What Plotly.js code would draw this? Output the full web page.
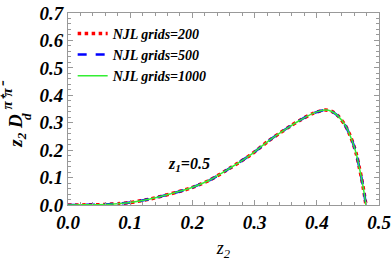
<!DOCTYPE html>
<html><head><meta charset="utf-8">
<script src="https://cdn.plot.ly/plotly-3.0.1.min.js"></script>
<style>html,body{margin:0;padding:0;background:#fff}#c{width:392px;height:261px}</style>
</head><body><div id="c"></div>
<script>
const z2 = [0.0, 0.03, 0.06, 0.08, 0.1, 0.132, 0.164, 0.196, 0.228, 0.26, 0.293, 0.322, 0.341, 0.357, 0.373, 0.394, 0.413, 0.424, 0.434, 0.446, 0.453, 0.459, 0.464, 0.468, 0.472, 0.476, 0.479];
const d200 = [0.0, 0.0005, 0.002, 0.005, 0.009, 0.022, 0.040, 0.061, 0.091, 0.134, 0.182, 0.233, 0.263, 0.287, 0.309, 0.334, 0.346, 0.341, 0.325, 0.289, 0.256, 0.220, 0.182, 0.140, 0.097, 0.045, 0.0];
const d500 = d200.slice();
const d1000 = d200.slice();
const names = ["NJL grids=200", "NJL grids=500", "NJL grids=1000"];

const ff = "Liberation Serif, Times New Roman, serif";
const traces = [
  {x: z2, y: d200, name: names[0], mode: "lines", line: {color: "#ff0000", width: 3.5, dash: "dot", shape: "spline", smoothing: 0.8}},
  {x: z2, y: d500, name: names[1], mode: "lines", line: {color: "#0000ff", width: 2.5, dash: "dash", shape: "spline", smoothing: 0.8}},
  {x: z2, y: d1000, name: names[2], mode: "lines", line: {color: "#33ee33", width: 1.5, shape: "spline", smoothing: 0.8}}
];
const axisCommon = {
  showgrid: false, zeroline: false, showline: true, linecolor: "#999", linewidth: 1,
  mirror: "allticks", ticks: "inside", ticklen: 5, tickcolor: "#999", tickwidth: 1,
  tickfont: {family: ff, size: 19, color: "#000", weight: "bold", style: "italic"}
};
const tf = {family: ff, color: "#000", weight: "bold", style: "italic"};
const layout = {
  width: 392, height: 261,
  margin: {l: 68, r: 13, t: 13, b: 56},
  paper_bgcolor: "#fff", plot_bgcolor: "#fff",
  showlegend: true,
  legend: {x: 0.015, y: 0.975, xanchor: "left", yanchor: "top", bgcolor: "rgba(0,0,0,0)", itemwidth: 30, tracegroupgap: 0,
    font: Object.assign({size: 14}, tf)},
  xaxis: Object.assign({}, axisCommon, {range: [0, 0.5], dtick: 0.1, tickformat: ".1f",
    minor: {dtick: 0.02, ticks: "inside", ticklen: 3, tickcolor: "#999"},
    title: {text: "z<sub>2</sub>", standoff: 15, font: {family: ff, size: 18, color: "#000", style: "italic"}}}),
  yaxis: Object.assign({}, axisCommon, {range: [0, 0.7], dtick: 0.1, tickformat: ".1f",
    minor: {dtick: 0.02, ticks: "inside", ticklen: 3, tickcolor: "#999"}}),
  annotations: [
    {x: 0.195, y: 0.146, xref: "x", yref: "y", text: "z<sub>1</sub>=0.5", showarrow: false,
      font: Object.assign({size: 16}, tf)},
    {x: -0.165, y: 0.385, xref: "paper", yref: "paper", text: "z<sub>2</sub> D", textangle: -90, showarrow: false,
      xanchor: "center", yanchor: "middle", font: Object.assign({size: 19}, tf)},
    {x: -0.196, y: 0.57, xref: "paper", yref: "paper", text: "π⁺π⁻", textangle: -90, showarrow: false,
      xanchor: "center", yanchor: "middle", font: Object.assign({size: 15}, tf)},
    {x: -0.134, y: 0.46, xref: "paper", yref: "paper", text: "d", textangle: -90, showarrow: false,
      xanchor: "center", yanchor: "middle", font: Object.assign({size: 13}, tf)}
  ]
};
Plotly.newPlot("c", traces, layout, {displayModeBar: false, staticPlot: true});
</script></body></html>
